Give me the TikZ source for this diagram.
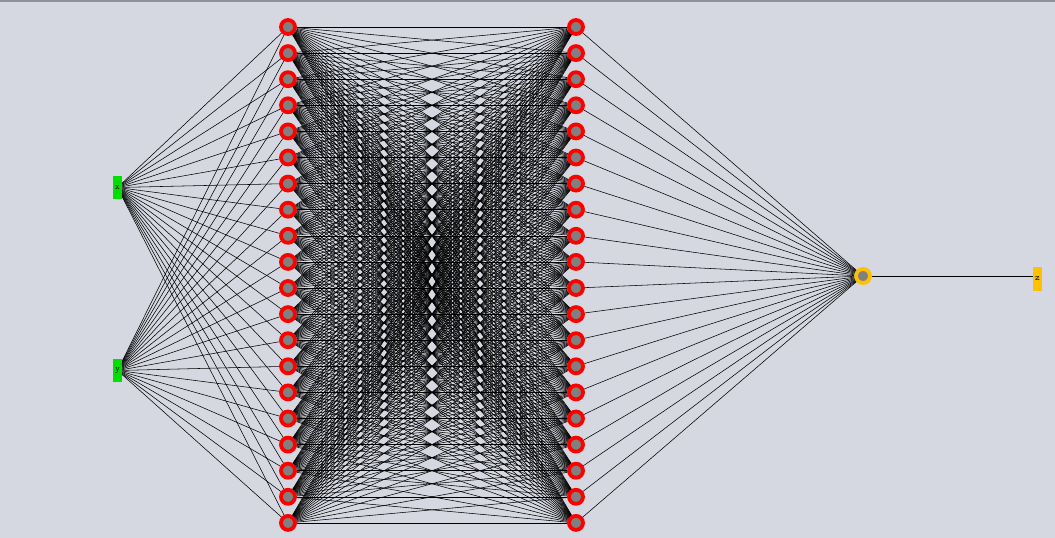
\documentclass[tikz,border=0pt]{standalone}
\definecolor{bgc}{HTML}{D5D8E0}
\definecolor{topline}{HTML}{8C919C}
\definecolor{nred}{HTML}{FF0000}
\definecolor{ngray}{HTML}{808080}
\definecolor{ngreen}{HTML}{00E000}
\definecolor{nyellow}{HTML}{FFC000}
\begin{document}
\begin{tikzpicture}[x=1pt,y=-1pt,
  neuron/.style={circle,draw=nred,fill=ngray,line width=3.8pt,minimum size=14pt,inner sep=0pt},
  outneuron/.style={circle,draw=nyellow,fill=ngray,line width=3.8pt,minimum size=14pt,inner sep=0pt},
  inbox/.style={rectangle,fill=ngreen,minimum width=9pt,minimum height=23pt,inner sep=0pt,font=\ttfamily\small},
  outbox/.style={rectangle,fill=nyellow,minimum width=9pt,minimum height=24pt,inner sep=0pt,font=\ttfamily\small},
  edge/.style={draw=black,line width=0.55pt}]
\fill[bgc] (0,0) rectangle (1055,538);
\useasboundingbox (0,0) rectangle (1055,538);
\draw[topline,line width=1.5pt] (0,0.75) -- (1055,0.75);
\node[inbox] (x) at (117.5,187.5) {\raisebox{-3pt}{x}};
\node[inbox] (y) at (117.5,370.5) {\raisebox{-3pt}{y}};
\foreach \i in {1,...,20}{
  \pgfmathsetmacro{\yy}{27+(\i-1)*26.1}
  \node[neuron] (a\i) at (288,\yy) {};
  \node[neuron] (b\i) at (576,\yy) {};
}
\node[outneuron] (o) at (863,276) {};
\node[outbox] (z) at (1037.5,278.5) {\raisebox{-3pt}{z}};
\foreach \i in {1,...,20}{
  \draw[edge] (x) -- (a\i);
  \draw[edge] (y) -- (a\i);
  \draw[edge] (b\i) -- (o);
  \foreach \j in {1,...,20}{
    \draw[edge] (a\i) -- (b\j);
  }
}
\draw[edge] (o) -- (o -| z.west);
\end{tikzpicture}
\end{document}
